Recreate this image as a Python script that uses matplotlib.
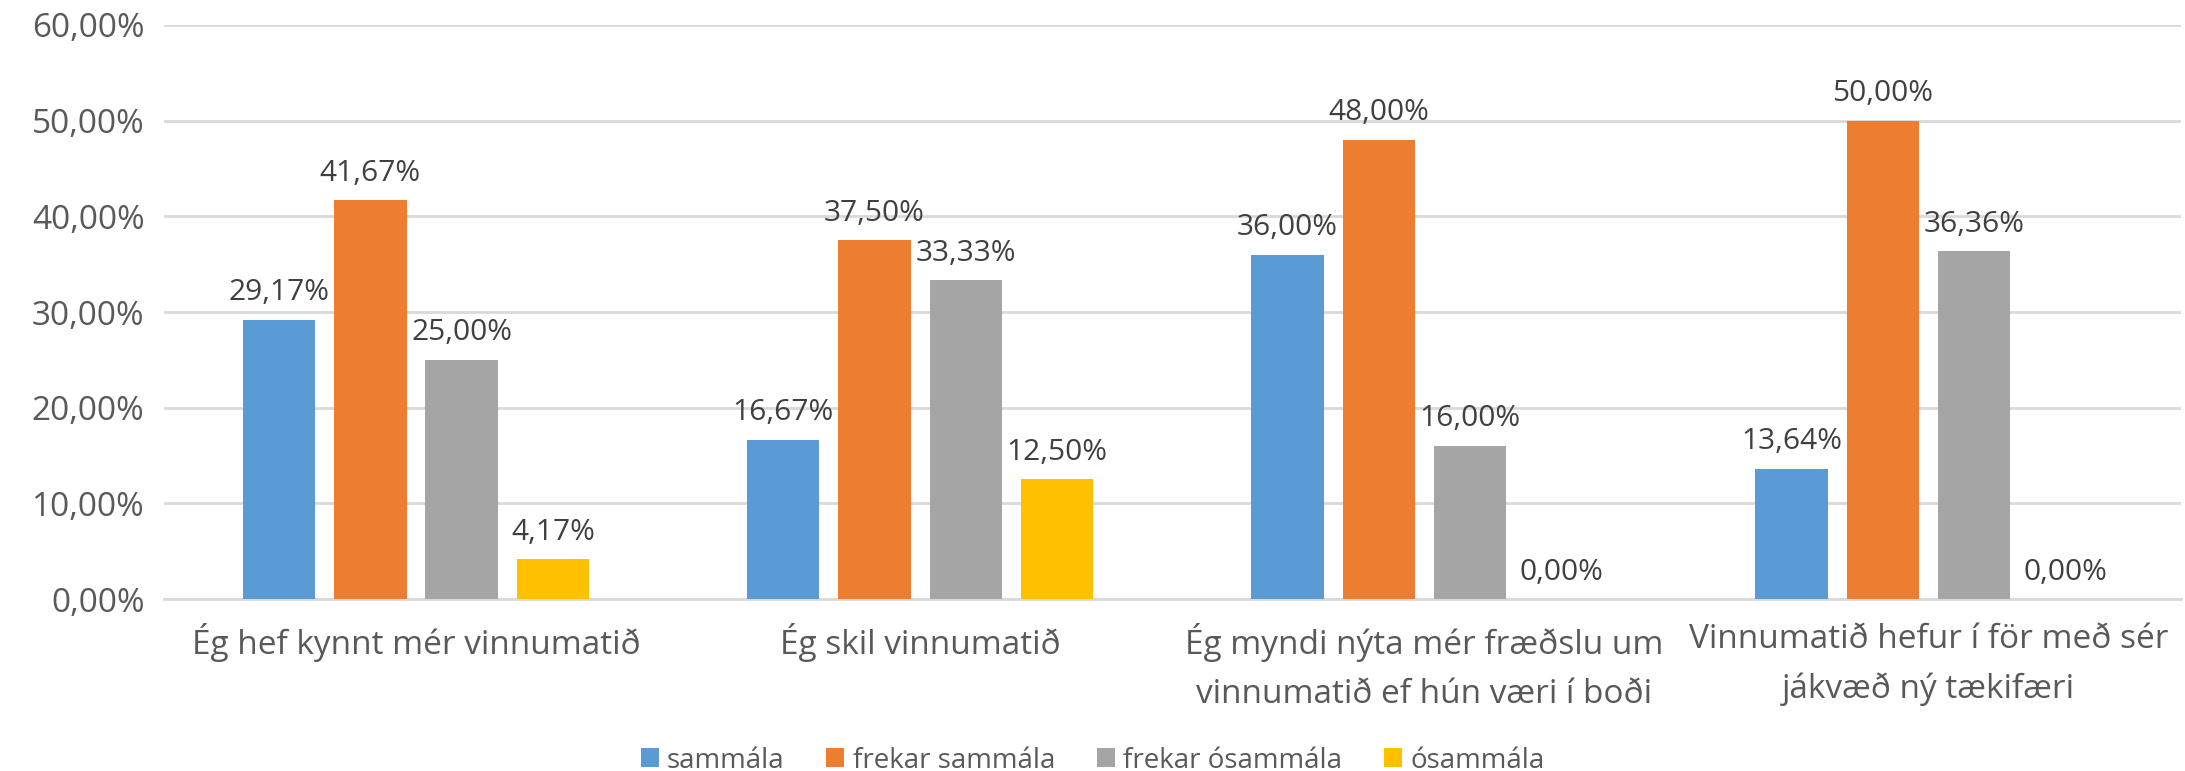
#!/usr/bin/env python

import numpy as np
import matplotlib
matplotlib.use("Agg")
import matplotlib.pyplot as plt

categories = ["Ég hef kynnt mér vinnumatið",
              "Ég skil vinnumatið",
              "Ég myndi nýta mér fræðslu um\nvinnumatið ef hún væri í boði",
              "Vinnumatið hefur í för með sér\njákvæð ný tækifæri"]
series_names = ["sammála", "frekar sammála", "frekar ósammála", "ósammála"]
sammala = [29.17, 16.67, 36.00, 13.64]
frekar_sammala = [41.67, 37.50, 48.00, 50.00]
frekar_osammala = [25.00, 33.33, 16.00, 36.36]
osammala = [4.17, 12.50, 0.00, 0.00]
yticks = [0, 10, 20, 30, 40, 50, 60]

colors = ["#5B9BD5", "#ED7D31", "#A5A5A5", "#FFC000"]
text_color = "#595959"
label_color = "#404040"

plt.rcParams['font.family'] = ['Open Sans', 'DejaVu Sans']

fig = plt.figure(figsize=(21.85, 7.71), dpi=100)
ax = fig.add_axes([0.075, 0.223, 0.923, 0.7446])

x = np.arange(len(categories))
pitch = 0.181
width = 0.1435
all_series = [sammala, frekar_sammala, frekar_osammala, osammala]

for j, (name, values) in enumerate(zip(series_names, all_series)):
    pos = x + (j - 1.5) * pitch
    ax.bar(pos, values, width, color=colors[j], label=name, zorder=3)
    for p, v in zip(pos, values):
        ax.annotate(f"{v:.2f}%".replace(".", ","), (p, v),
                    xytext=(0, 9), textcoords="offset points",
                    ha="center", va="bottom", fontsize=21.5, color=label_color)

ax.set_xlim(-0.5, len(categories) - 0.5)
ax.set_ylim(0, 60)
ax.set_yticks(yticks)
ax.set_yticklabels([f"{t},00%" for t in yticks], fontsize=24, color=text_color)
ax.set_xticks(x)
ax.set_xticklabels(categories, fontsize=24, color=text_color, linespacing=1.65)
ax.tick_params(axis="both", length=0)
ax.tick_params(axis="x", pad=17)
ax.tick_params(axis="y", pad=14)
ax.yaxis.grid(True, color="#D9D9D9", linewidth=2, zorder=0)
for s in ["top", "right", "left"]:
    ax.spines[s].set_visible(False)
ax.spines["bottom"].set_color("#D9D9D9")
ax.spines["bottom"].set_linewidth(2)

fig.legend(loc="lower center", ncol=4, bbox_to_anchor=(0.5, -0.037),
           frameon=False, fontsize=20, labelcolor=text_color,
           handlelength=0.65, handleheight=0.65, handletextpad=0.3,
           columnspacing=1.5)

fig.savefig("out.png", dpi=100)
